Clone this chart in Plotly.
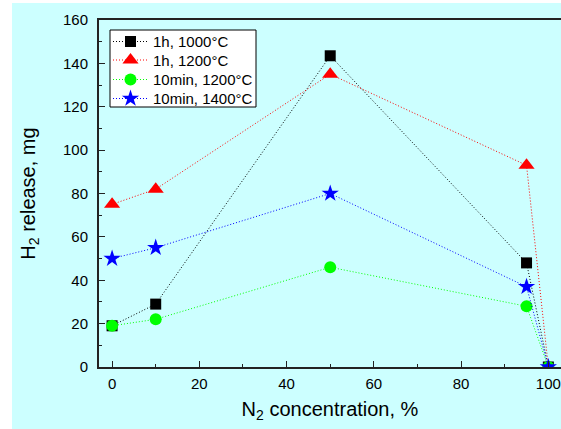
import plotly.graph_objects as go

# N2 concentration in the gas mixture, %
n2_conc = [0, 10, 50, 95, 100]

# H2 release, mg
h1000_1h = [19, 29, 143.5, 48, 0]
h1200_1h = [75, 82, 135, 93, 0]
h1200_10min = [19, 22, 46, 28, 0]
h1400_10min = [50, 55, 80, 37, 0]

series_names = ["1h, 1000°C", "1h, 1200°C", "10min, 1200°C", "10min, 1400°C"]
series_values = [h1000_1h, h1200_1h, h1200_10min, h1400_10min]

colors = ["black", "red", "#00ff00", "blue"]
symbols = ["square", "triangle-up", "circle", "star"]
sizes = [11, 14, 12, 13]
DOT = "1px,2px"

W, H = 561, 429
L, T, R, B = 99, 20, 0, 62
pw, ph = W - L - R, H - T - B

family = "Liberation Sans, Arial, sans-serif"
tick_font = dict(family=family, size=15, color="black")
title_font = dict(family=family, size=20, color="black")

fig = go.Figure()
for name, ys, color, sym, size in zip(series_names, series_values, colors, symbols, sizes):
    fig.add_trace(go.Scatter(
        x=n2_conc, y=ys, name=name, mode="lines+markers", showlegend=False,
        line=dict(color=color, width=1, dash=DOT),
        marker=dict(symbol=sym, size=size, color=color, line=dict(width=0)),
    ))

# Legend box drawn on an overlay axis measured in pixels
box_l, box_r, box_t, box_b = 110, 256, 30, 107
row_y = [41.5, 60, 79.5, 98.5]
fig.add_trace(go.Scatter(
    x=[box_l, box_r, box_r, box_l, box_l], y=[box_t, box_t, box_b, box_b, box_t],
    xaxis="x2", yaxis="y2", mode="lines", fill="toself", fillcolor="white",
    line=dict(color="black", width=1), showlegend=False, hoverinfo="skip",
))
for name, color, sym, size, yy in zip(series_names, colors, symbols, sizes, row_y):
    fig.add_trace(go.Scatter(
        x=[113, 148], y=[yy, yy], xaxis="x2", yaxis="y2", mode="lines",
        line=dict(color=color, width=1, dash=DOT), showlegend=False, hoverinfo="skip",
    ))
    fig.add_trace(go.Scatter(
        x=[130.5], y=[yy], xaxis="x2", yaxis="y2", mode="markers",
        marker=dict(symbol=sym, size=size, color=color, line=dict(width=0)),
        showlegend=False, hoverinfo="skip", cliponaxis=False,
    ))
    fig.add_annotation(
        x=151, y=yy, xref="x2", yref="y2", text=name, showarrow=False,
        xanchor="left", yanchor="middle", font=dict(family=family, size=15, color="black"),
    )

fig.update_xaxes(
    range=[-3, 102.9], tickvals=[0, 20, 40, 60, 80, 100],
    ticks="inside", ticklen=6, tickwidth=1, tickcolor="#222",
    minor=dict(tickvals=[10, 30, 50, 70, 90], ticks="inside", ticklen=3, tickcolor="#222"),
    showline=True, linewidth=2, linecolor="#222", mirror=True,
    showgrid=False, zeroline=False, tickfont=tick_font, ticklabelstandoff=2,
    title=dict(text="N<sub>2</sub> concentration, %", font=title_font, standoff=11),
)
fig.update_yaxes(
    range=[0, 160], tickvals=[0, 20, 40, 60, 80, 100, 120, 140, 160],
    ticks="inside", ticklen=6, tickwidth=1, tickcolor="#222",
    minor=dict(tickvals=[10, 30, 50, 70, 90, 110, 130, 150], ticks="inside", ticklen=3, tickcolor="#222"),
    showline=True, linewidth=2, linecolor="#222",
    showgrid=False, zeroline=False, tickfont=tick_font, ticklabelstandoff=6,
    title=dict(text="H<sub>2</sub> release, mg", font=title_font, standoff=22),
)

# white strips along the left and top edges of the page
fig.add_shape(type="rect", xref="paper", yref="paper",
              x0=-L / pw - 0.01, x1=-(L - 12) / pw, y0=-B / ph - 0.05, y1=(ph + T) / ph + 0.05,
              fillcolor="white", line_width=0, layer="above")
fig.add_shape(type="rect", xref="paper", yref="paper",
              x0=-L / pw - 0.01, x1=1.05, y0=(ph + T - 3) / ph, y1=(ph + T) / ph + 0.05,
              fillcolor="white", line_width=0, layer="above")

fig.update_layout(
    width=W, height=H,
    margin=dict(l=L, r=R, t=T, b=B, pad=0),
    paper_bgcolor="#ccffff", plot_bgcolor="#ccffff",
    font=tick_font, showlegend=False,
    xaxis2=dict(overlaying="x", range=[L, W - R], visible=False, fixedrange=True),
    yaxis2=dict(overlaying="y", range=[H - B, T], visible=False, fixedrange=True),
)

fig.write_html("out.html")
